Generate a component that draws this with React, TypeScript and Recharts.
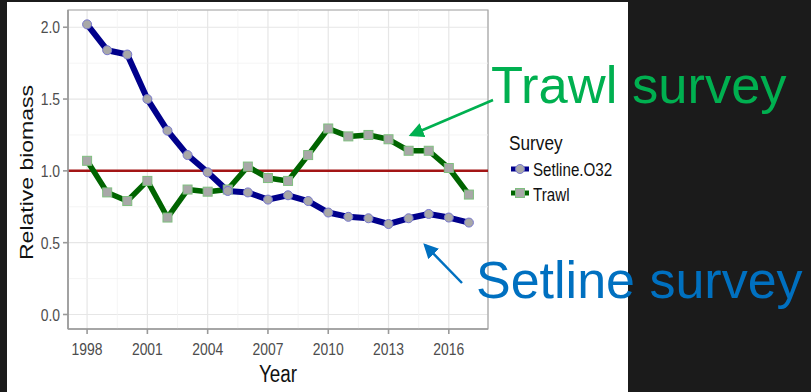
import { LineChart, Line, XAxis, YAxis, CartesianGrid, ReferenceLine, ReferenceArea } from 'recharts';

const years = [1998, 1999, 2000, 2001, 2002, 2003, 2004, 2005, 2006, 2007, 2008, 2009, 2010, 2011, 2012, 2013, 2014, 2015, 2016, 2017];
const setline = [2.02, 1.84, 1.81, 1.5, 1.28, 1.11, 0.99, 0.86, 0.85, 0.8, 0.83, 0.79, 0.71, 0.68, 0.67, 0.63, 0.67, 0.7, 0.675, 0.64];
const trawl = [1.07, 0.85, 0.79, 0.93, 0.675, 0.87, 0.855, 0.87, 1.03, 0.95, 0.93, 1.11, 1.295, 1.24, 1.25, 1.22, 1.14, 1.14, 1.02, 0.835];

const xTicks = [1998, 2001, 2004, 2007, 2010, 2013, 2016];
const xMinor = [1999.5, 2002.5, 2005.5, 2008.5, 2011.5, 2014.5];
const yTicks = [0, 0.5, 1, 1.5, 2];
const yMinor = [0.25, 0.75, 1.25, 1.75];
const xDomain = [1997.05, 2017.95];
const yDomain = [-0.101, 2.12];

const seriesNames = ['Setline.O32', 'Trawl'];

const data = years.map((year, i) => ({ year, setline: setline[i], trawl: trawl[i] }));

const FONT = "'Liberation Sans', Arial, Helvetica, sans-serif";
const SQUASH = 0.82;
const DOT_FILL = '#a8a8a8';

const XTick = ({ x, y, payload }: any) => (
  <g transform={`translate(${x},${y}) scale(${SQUASH},1)`}>
    <text x={0} y={0} dy={19} textAnchor="middle" fontSize={17} fill="#4d4d4d" fontFamily={FONT}>
      {payload.value}
    </text>
  </g>
);

const YTick = ({ x, y, payload }: any) => (
  <g transform={`translate(${x},${y}) scale(${SQUASH},1)`}>
    <text x={0} y={0} dy={6} textAnchor="end" fontSize={17} fill="#4d4d4d" fontFamily={FONT}>
      {payload.value.toFixed(1)}
    </text>
  </g>
);

const XTitle = ({ viewBox }: any) => (
  <g transform={`translate(${viewBox.x + viewBox.width / 2},${viewBox.y + 53}) scale(${SQUASH},1)`}>
    <text textAnchor="middle" fontSize={23} fill="#111" fontFamily={FONT}>Year</text>
  </g>
);

const YTitle = ({ viewBox }: any) => (
  <g transform={`translate(${viewBox.x + 33},${viewBox.y + viewBox.height / 2 + 3}) scale(${SQUASH},1) rotate(-90)`}>
    <text textAnchor="middle" fontSize={23} fill="#111" fontFamily={FONT}>Relative biomass</text>
  </g>
);

const SquareDot = ({ cx, cy, index }: any) => (
  <rect key={`sq-${index}`} x={cx - 4.5} y={cy - 4.5} width={9} height={9} fill={DOT_FILL} stroke="#7fbf7f" strokeWidth={1} />
);

function Overlay() {
  return (
    <svg width={811} height={392} style={{ position: 'absolute', left: 0, top: 0, pointerEvents: 'none' }}>
      <defs>
        <marker id="arrG" markerWidth="6" markerHeight="6" refX="5" refY="3" orient="auto" markerUnits="strokeWidth">
          <path d="M0,0 L6,3 L0,6 z" fill="#00b050" />
        </marker>
        <marker id="arrB" markerWidth="6" markerHeight="6" refX="5" refY="3" orient="auto" markerUnits="strokeWidth">
          <path d="M0,0 L6,3 L0,6 z" fill="#0070c0" />
        </marker>
      </defs>

      {/* legend */}
      <g fontFamily={FONT}>
        <g transform={`translate(509,150) scale(${SQUASH},1)`}>
          <text fontSize={21} fill="#111">Survey</text>
        </g>
        <line x1={511} x2={529} y1={169} y2={169} stroke="#00008b" strokeWidth={5} />
        <circle cx={520} cy={169} r={4.5} fill={DOT_FILL} stroke="#7777cc" strokeWidth={1} />
        <g transform={`translate(533,176) scale(${SQUASH},1)`}>
          <text fontSize={18.5} fill="#111">{seriesNames[0]}</text>
        </g>
        <line x1={511} x2={529} y1={193} y2={193} stroke="#006400" strokeWidth={5} />
        <rect x={515.5} y={188.5} width={9} height={9} fill={DOT_FILL} stroke="#7fbf7f" strokeWidth={1} />
        <g transform={`translate(533,201) scale(${SQUASH},1)`}>
          <text fontSize={18.5} fill="#111">{seriesNames[1]}</text>
        </g>
      </g>

      {/* annotations */}
      <line x1={493} y1={100} x2={411} y2={135} stroke="#00b050" strokeWidth={2.5} markerEnd="url(#arrG)" />
      <line x1={462} y1={283} x2={425} y2={245} stroke="#0070c0" strokeWidth={2.5} markerEnd="url(#arrB)" />
      <text x={491} y={103} fontSize={52.5} fill="#00b050" fontFamily={FONT}>Trawl survey</text>
      <text x={476} y={298} fontSize={52} fill="#0070c0" fontFamily={FONT}>Setline survey</text>
    </svg>
  );
}

export default function App() {
  return (
    <div style={{ position: 'fixed', left: 0, top: 0, width: 811, height: 392, background: '#1b1b1b', overflow: 'hidden' }}>
      <div style={{ position: 'absolute', left: 7, top: 2, width: 621, height: 390, background: '#fff' }} />
      <div style={{ position: 'absolute', left: 0, top: 0 }}>
        <LineChart width={811} height={392} data={data} margin={{ top: 10, right: 323, bottom: 13, left: 0 }}>
          <CartesianGrid stroke="#e6e6e6" strokeWidth={1.2} />
          {xMinor.map((v) => (
            <ReferenceLine key={`xm-${v}`} x={v} stroke="#f1f1f1" strokeWidth={0.8} />
          ))}
          {yMinor.map((v) => (
            <ReferenceLine key={`ym-${v}`} y={v} stroke="#f1f1f1" strokeWidth={0.8} />
          ))}
          <ReferenceArea x1={xDomain[0]} x2={xDomain[1]} y1={yDomain[0]} y2={yDomain[1]} fill="none" stroke="#a6a6a6" strokeWidth={1.2} />
          <XAxis
            dataKey="year"
            type="number"
            domain={xDomain}
            allowDataOverflow
            ticks={xTicks}
            height={50}
            tickSize={5}
            tickMargin={2}
            tick={<XTick />}
            stroke="#9a9a9a"
            strokeWidth={1.6}
            label={{ value: 'Year', content: XTitle }}
          />
          <YAxis
            type="number"
            domain={yDomain}
            allowDataOverflow
            ticks={yTicks}
            width={68}
            tickSize={5}
            tickMargin={3}
            tick={<YTick />}
            stroke="#9a9a9a"
            strokeWidth={1.6}
            label={{ value: 'Relative biomass', content: YTitle }}
          />
          <ReferenceLine y={1} stroke="#a31515" strokeWidth={2.5} />
          <Line
            dataKey="trawl"
            name={seriesNames[1]}
            stroke="#006400"
            strokeWidth={5.5}
            strokeLinejoin="round"
            dot={<SquareDot />}
            isAnimationActive={false}
          />
          <Line
            dataKey="setline"
            name={seriesNames[0]}
            stroke="#00008b"
            strokeWidth={6}
            strokeLinejoin="round"
            dot={{ r: 4.5, fill: DOT_FILL, stroke: '#7777cc', strokeWidth: 1 }}
            isAnimationActive={false}
          />
        </LineChart>
      </div>
      <Overlay />
    </div>
  );
}
